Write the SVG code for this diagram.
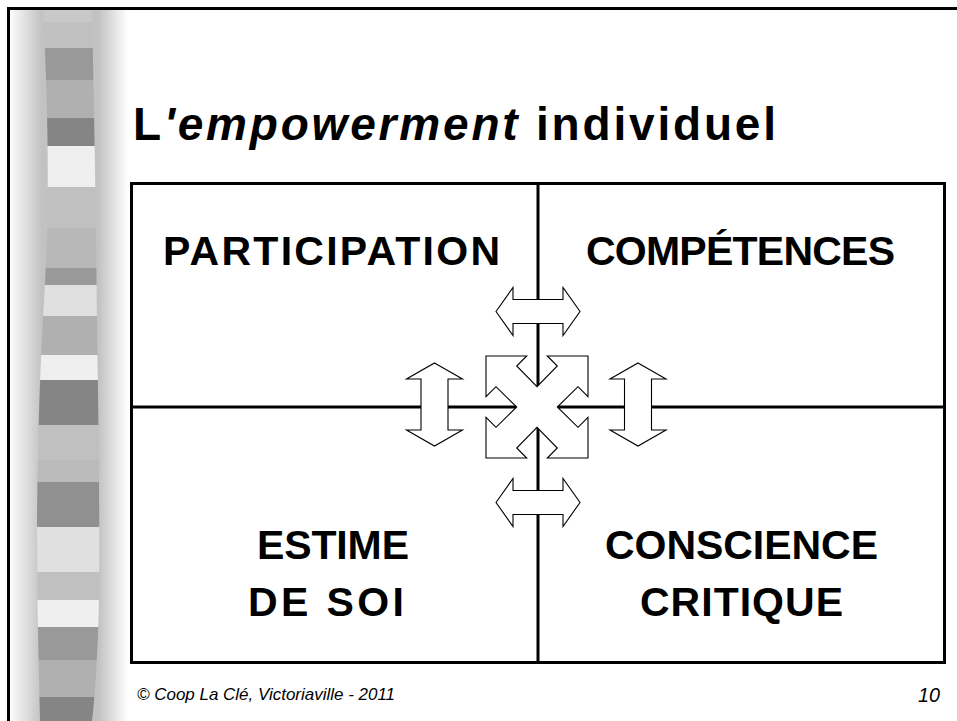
<svg xmlns="http://www.w3.org/2000/svg" width="957" height="721" viewBox="0 0 957 721">
<style>
.lbl{font-family:"Liberation Sans",Arial,sans-serif;font-weight:bold;font-size:41px;fill:#000}
.ttl{font-family:"Liberation Sans",Arial,sans-serif;font-weight:bold;font-size:46px;fill:#000}
.foot{font-family:"Liberation Sans",Arial,sans-serif;font-style:italic;fill:#000}
.arr{fill:#fff;stroke:#000;stroke-width:1.1;stroke-linejoin:miter}
.line{stroke:#000;stroke-width:3;fill:none}
</style>
<defs>
<linearGradient id="bg" x1="0" y1="0" x2="1" y2="0">
<stop offset="0" stop-color="#fcfcfc"/>
<stop offset="0.27" stop-color="#c2c2c2"/>
<stop offset="0.75" stop-color="#c2c2c2"/>
<stop offset="1" stop-color="#ffffff"/>
</linearGradient>
<clipPath id="band">
<path d="M43,10 L92,10 Q96,200 97,330 Q100,500 99,600 Q97,680 92,721 L40,721 Q37,620 37,520 Q38,400 44,300 Q52,180 43,10 Z"/>
</clipPath>
<polygon id="harr" points="-42,0 -25,-24 -25,-12 25,-12 25,-24 42,0 25,24 25,12 -25,12 -25,24"/>
<polygon id="varr" points="0,-41.5 28,-25.5 13.5,-25.5 13.5,25.5 28,25.5 0,41.5 -28,25.5 -13.5,25.5 -13.5,-25.5 -28,-25.5"/>
</defs>
<rect width="957" height="721" fill="#fff"/>
<g id="sidebar">
<rect x="10" y="10" width="118" height="711" fill="url(#bg)"/>
<g clip-path="url(#band)">
<rect x="30" y="10" width="80" height="12" fill="#c8c8c8"/>
<rect x="30" y="22" width="80" height="26" fill="#c0c0c0"/>
<rect x="30" y="48" width="80" height="32" fill="#999"/>
<rect x="30" y="80" width="80" height="38" fill="#b0b0b0"/>
<rect x="30" y="118" width="80" height="28" fill="#858585"/>
<rect x="30" y="146" width="80" height="41" fill="#efefef"/>
<rect x="30" y="187" width="80" height="41" fill="#c0c0c0"/>
<rect x="30" y="228" width="80" height="40" fill="#b8b8b8"/>
<rect x="30" y="268" width="80" height="17" fill="#999"/>
<rect x="30" y="285" width="80" height="31" fill="#e0e0e0"/>
<rect x="30" y="316" width="80" height="39" fill="#b0b0b0"/>
<rect x="30" y="355" width="80" height="25" fill="#efefef"/>
<rect x="30" y="380" width="80" height="45" fill="#858585"/>
<rect x="30" y="425" width="80" height="35" fill="#c0c0c0"/>
<rect x="30" y="460" width="80" height="22" fill="#bbb"/>
<rect x="30" y="482" width="80" height="45" fill="#909090"/>
<rect x="30" y="527" width="80" height="45" fill="#e0e0e0"/>
<rect x="30" y="572" width="80" height="28" fill="#c0c0c0"/>
<rect x="30" y="600" width="80" height="27" fill="#efefef"/>
<rect x="30" y="627" width="80" height="33" fill="#999"/>
<rect x="30" y="660" width="80" height="37" fill="#b0b0b0"/>
<rect x="30" y="697" width="80" height="24" fill="#858585"/>
</g>
</g>
<rect x="8.5" y="8.5" width="1000" height="800" fill="none" stroke="#000" stroke-width="3"/>
<text class="ttl" x="133" y="140" textLength="643" lengthAdjust="spacing">L<tspan font-style="italic">'empowerment</tspan> individuel</text>
<g id="grid">
<rect class="line" x="131.5" y="183.5" width="813" height="479"/>
<line class="line" x1="538" y1="183" x2="538" y2="662"/>
<line class="line" x1="131" y1="407" x2="944" y2="407"/>
</g>
<g id="participation"><text class="lbl" x="163" y="265" textLength="337" lengthAdjust="spacing">PARTICIPATION</text></g>
<g id="competences"><text class="lbl" x="586" y="265" textLength="309" lengthAdjust="spacing">COMPÉTENCES</text></g>
<g id="estime"><text class="lbl" x="257" y="559" textLength="152" lengthAdjust="spacing">ESTIME</text><text class="lbl" x="248" y="616" textLength="156" lengthAdjust="spacing">DE SOI</text></g>
<g id="conscience"><text class="lbl" x="605" y="559" textLength="273" lengthAdjust="spacing">CONSCIENCE</text><text class="lbl" x="640" y="616" textLength="203" lengthAdjust="spacing">CRITIQUE</text></g>
<g id="connectors">
<use href="#harr" class="arr" x="538" y="311.5"/>
<use href="#harr" class="arr" x="538" y="502.5"/>
<use href="#varr" class="arr" x="434.5" y="404.5"/>
<use href="#varr" class="arr" x="638" y="404.5"/>
<polygon class="arr" transform="translate(537,407)" points="-51,-51 -10.3,-51 -20.3,-41 0,-20.3 20.3,-41 10.3,-51 51,-51 51,-10.3 41,-20.3 20.3,0 41,20.3 51,10.3 51,51 10.3,51 20.3,41 0,20.3 -20.3,41 -10.3,51 -51,51 -51,10.3 -41,20.3 -20.3,0 -41,-20.3 -51,-10.3"/>
</g>
<text class="foot" x="137" y="700" font-size="17" textLength="258" lengthAdjust="spacingAndGlyphs">© Coop La Clé, Victoriaville - 2011</text>
<text class="foot" x="918" y="702" font-size="21" textLength="22" lengthAdjust="spacingAndGlyphs">10</text>
</svg>
